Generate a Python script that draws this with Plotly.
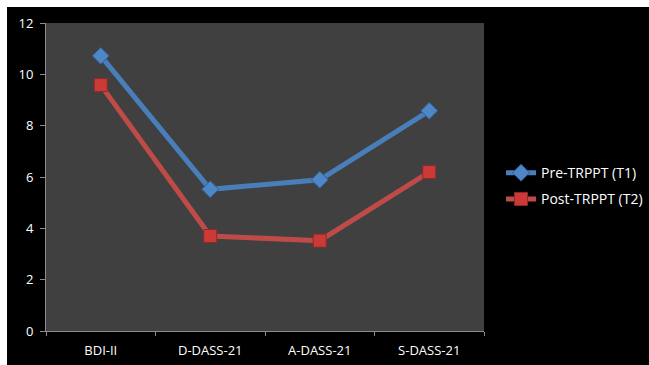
import plotly.graph_objects as go

# Scale scores before and after treatment
categories = ["BDI-II", "D-DASS-21", "A-DASS-21", "S-DASS-21"]
pre_values = [10.72, 5.52, 5.89, 8.58]
post_values = [9.58, 3.70, 3.52, 6.19]
y_ticks = [0, 2, 4, 6, 8, 10, 12]

BLUE = "#4A7EBB"
RED = "#BE4B48"
AXIS = "#8C8C8C"
FONT = "Open Sans"

fig = go.Figure()
fig.add_trace(go.Scatter(
    x=categories, y=pre_values, mode="lines+markers", name="Pre-TRPPT (T1)",
    legendgroup="pre",
    line=dict(color=BLUE, width=5),
    marker=dict(symbol="diamond", size=13, color="#4F86C6",
                line=dict(color="#2F5C94", width=1)),
))
fig.add_trace(go.Scatter(
    x=categories, y=post_values, mode="lines+markers", name="Post-TRPPT (T2)",
    legendgroup="post",
    line=dict(color=RED, width=5),
    marker=dict(symbol="square", size=13, color="#CC3A38",
                line=dict(color="#8E2A28", width=1)),
))

# thin white margin along the top and left edges of the page
fig.add_shape(type="rect", xref="paper", yref="paper",
              x0=-0.2, x1=1.6, y0=1.0519, y1=1.2,
              fillcolor="white", line=dict(width=0), layer="above")
fig.add_shape(type="rect", xref="paper", yref="paper",
              x0=-0.2, x1=-0.089, y0=-0.2, y1=1.2,
              fillcolor="white", line=dict(width=0), layer="above")

fig.update_layout(
    width=649, height=365,
    margin=dict(l=46, r=165, t=23, b=34),
    paper_bgcolor="black",
    plot_bgcolor="#404040",
    font=dict(family=FONT, color="white", size=13),
    showlegend=True,
    legend=dict(xref="container", yref="container",
                x=0.772, y=0.49, xanchor="left", yanchor="middle",
                bgcolor="rgba(0,0,0,0)", font=dict(size=14, color="white"),
                traceorder="grouped", tracegroupgap=5, itemwidth=30),
)
fig.update_xaxes(
    type="category", range=[-0.5, 3.5], automargin=False,
    showline=True, linecolor=AXIS, linewidth=1,
    ticks="outside", tickson="boundaries", ticklen=4, tickcolor=AXIS,
    showgrid=False, zeroline=False, ticklabelstandoff=7,
)
fig.update_yaxes(
    range=[0, 12], tickvals=y_ticks, automargin=False,
    showline=True, linecolor=AXIS, linewidth=1,
    ticks="outside", ticklen=5, tickcolor=AXIS,
    showgrid=False, zeroline=False, ticklabelstandoff=4,
)

fig.write_html("out.html")
